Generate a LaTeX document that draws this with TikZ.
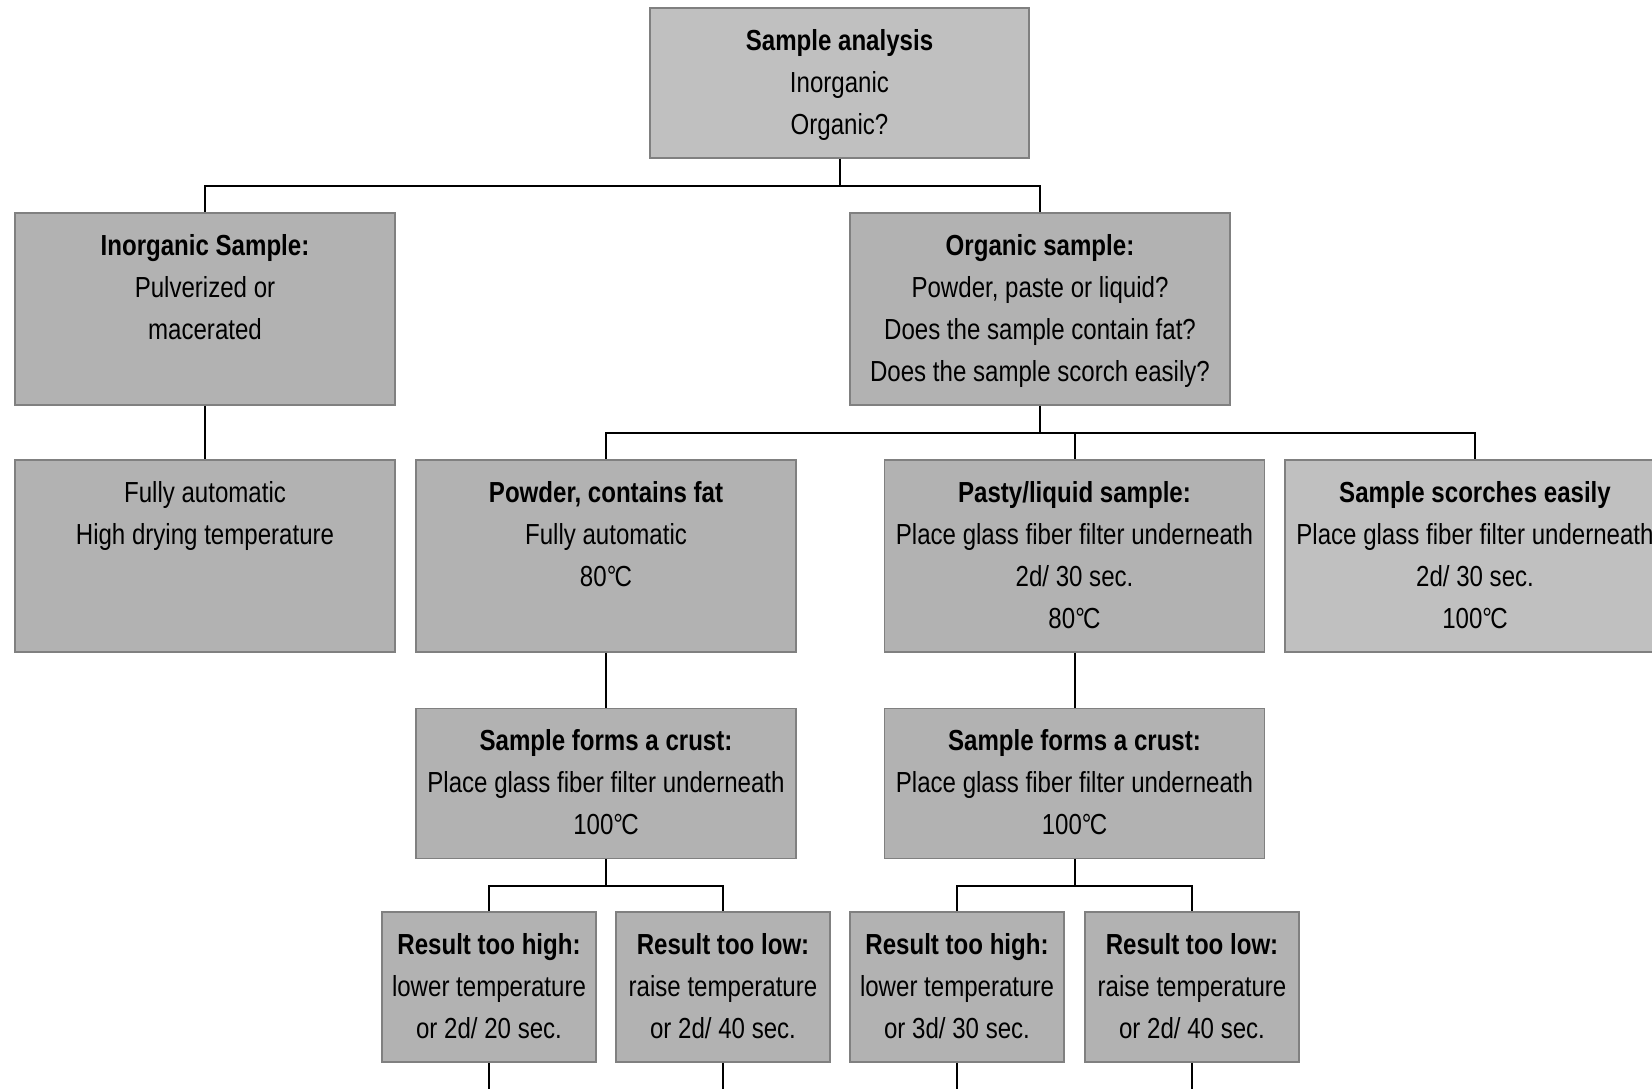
\documentclass[tikz,border=0pt]{standalone}
\usepackage{fontspec}
\setmainfont{Liberation Sans}[FakeStretch=0.83]
\usepackage{xcolor}
\usepackage{tikz}
\usetikzlibrary{positioning,calc}

\definecolor{boxfill}{RGB}{178,178,178}
\definecolor{lightfill}{RGB}{192,192,192}
\definecolor{boxline}{RGB}{128,128,128}

% box text: width, height, lines
\newcommand{\boxtext}[3]{\parbox[t][#2pt][t]{#1pt}{\centering\fontsize{29}{42}\selectfont\rule{0pt}{42pt}#3}}
\newcommand{\degC}{°\kern-0.06em C}

\begin{document}
\begin{tikzpicture}[x=1pt,y=-1pt,
    stage/.style={draw=boxline, line width=1.5pt, fill=boxfill, inner sep=0pt},
    light/.style={stage, fill=lightfill},
    link/.style={draw=black, line width=2pt}]
    \useasboundingbox (0,0) rectangle (1652,1088);

    % top level
    \node[light] (analysis) at (839.5,83) {\boxtext{379}{150}{\textbf{Sample analysis}\\Inorganic\\Organic?}};

    % second level
    \node[stage] (inorg) at (205,309) {\boxtext{380}{192}{\textbf{Inorganic Sample:}\\Pulverized or\\macerated}};
    \node[stage] (org) at (1040,309) {\boxtext{380}{192}{\textbf{Organic sample:}\\Powder, paste or liquid?\\Does the sample contain fat?\\Does the sample scorch easily?}};

    % third level
    \node[stage] (auto) at (205,556) {\boxtext{380}{192}{Fully automatic\\High drying temperature}};
    \node[stage] (powder) at (606,556) {\boxtext{380}{192}{\textbf{Powder, contains fat}\\Fully automatic\\80\degC}};
    \node[stage] (pasty) at (1074.5,556) {\boxtext{380}{192}{\textbf{Pasty/liquid sample:}\\Place glass fiber filter underneath\\2d/ 30 sec.\\80\degC}};
    \node[light] (scorch) at (1475,556) {\boxtext{380}{192}{\textbf{Sample scorches easily}\\Place glass fiber filter underneath\\2d/ 30 sec.\\100\degC}};

    % crust
    \node[stage, below=55pt of powder] (crustA) {\boxtext{380}{150}{\textbf{Sample forms a crust:}\\Place glass fiber filter underneath\\100\degC}};
    \node[stage, below=55pt of pasty] (crustB) {\boxtext{380}{150}{\textbf{Sample forms a crust:}\\Place glass fiber filter underneath\\100\degC}};

    % results
    \node[stage] (highA) at (489,987) {\boxtext{214}{150}{\textbf{Result too high:}\\lower temperature\\or 2d/ 20 sec.}};
    \node[stage] (lowA) at (723,987) {\boxtext{214}{150}{\textbf{Result too low:}\\raise temperature\\or 2d/ 40 sec.}};
    \node[stage] (highB) at (957,987) {\boxtext{214}{150}{\textbf{Result too high:}\\lower temperature\\or 3d/ 30 sec.}};
    \node[stage] (lowB) at (1192,987) {\boxtext{214}{150}{\textbf{Result too low:}\\raise temperature\\or 2d/ 40 sec.}};

    % connectors
    \draw[link] (analysis.south) -- ++(0,27) -| (inorg.north);
    \draw[link] (analysis.south) -- ++(0,27) -| (org.north);
    \draw[link] (inorg.south) -- (auto.north);
    \foreach \n in {powder,pasty,scorch}
        \draw[link] (org.south) -- ++(0,27) -| (\n.north);
    \draw[link] (powder.south) -- (crustA.north);
    \draw[link] (pasty.south) -- (crustB.north);
    \foreach \n in {highA,lowA}
        \draw[link] (crustA.south) -- ++(0,27) -| (\n.north);
    \foreach \n in {highB,lowB}
        \draw[link] (crustB.south) -- ++(0,27) -| (\n.north);
    \coordinate (bottom) at (0,1095);
    \foreach \n in {highA,lowA,highB,lowB}
        \draw[link] (\n.south) -- (\n.south |- bottom);
\end{tikzpicture}
\end{document}
